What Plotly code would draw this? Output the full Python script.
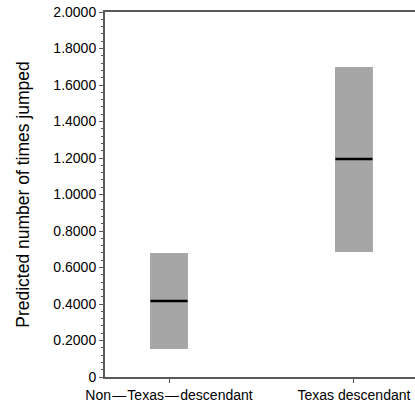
import plotly.graph_objects as go

categories = ["Non\u200a\u2014\u200aTexas\u200a\u2014\u200adescendant", "Texas descendant"]
lower = [0.153, 0.685]
upper = [0.679, 1.699]
mean = [0.416, 1.195]
ytick_vals = [0, 0.2, 0.4, 0.6, 0.8, 1.0, 1.2, 1.4, 1.6, 1.8, 2.0]
ytick_text = ["0", "0.2000", "0.4000", "0.6000", "0.8000", "1.0000",
              "1.2000", "1.4000", "1.6000", "1.8000", "2.0000"]

FONT = "Liberation Sans, Arial, sans-serif"
AX = "#5a5a5a"

fig = go.Figure()
fig.add_trace(go.Bar(
    x=categories,
    y=[u - l for u, l in zip(upper, lower)],
    base=lower,
    width=0.205,
    marker=dict(color="#a6a6a6", line=dict(width=0)),
    hoverinfo="skip",
    showlegend=False,
))
fig.add_trace(go.Scatter(
    x=categories,
    y=mean,
    mode="markers",
    marker=dict(symbol="line-ew", size=26.5, line=dict(color="black", width=2.5)),
    showlegend=False,
))

fig.update_layout(
    width=415, height=407,
    margin=dict(l=105, r=0, t=12, b=30),
    paper_bgcolor="white", plot_bgcolor="white",
    font=dict(family=FONT, size=14, color="black"),
    xaxis=dict(
        type="category",
        range=[-0.346, 1.330],
        showline=True, linecolor=AX, linewidth=2, mirror=True,
        ticks="outside", ticklen=4, tickcolor=AX, tickwidth=1,
        showgrid=False, zeroline=False,
        tickfont=dict(size=14, color="black"),
    ),
    yaxis=dict(
        range=[0, 2.0],
        tickvals=ytick_vals, ticktext=ytick_text,
        showline=True, linecolor=AX, linewidth=2, mirror=False,
        ticks="outside", ticklen=4, tickcolor=AX, tickwidth=1,
        minor=dict(dtick=0.04, ticks="outside", ticklen=2, tickcolor=AX, tickwidth=1),
        showgrid=False, zeroline=False,
        tickfont=dict(size=14, color="black"),
        title=dict(text="Predicted number of times jumped",
                   font=dict(size=17.5, color="black"), standoff=19),
    ),
)

fig.write_html(
    "out.html",
    config={"displayModeBar": False},
    post_script="document.body.style.margin='0';document.body.style.padding='0';",
)
